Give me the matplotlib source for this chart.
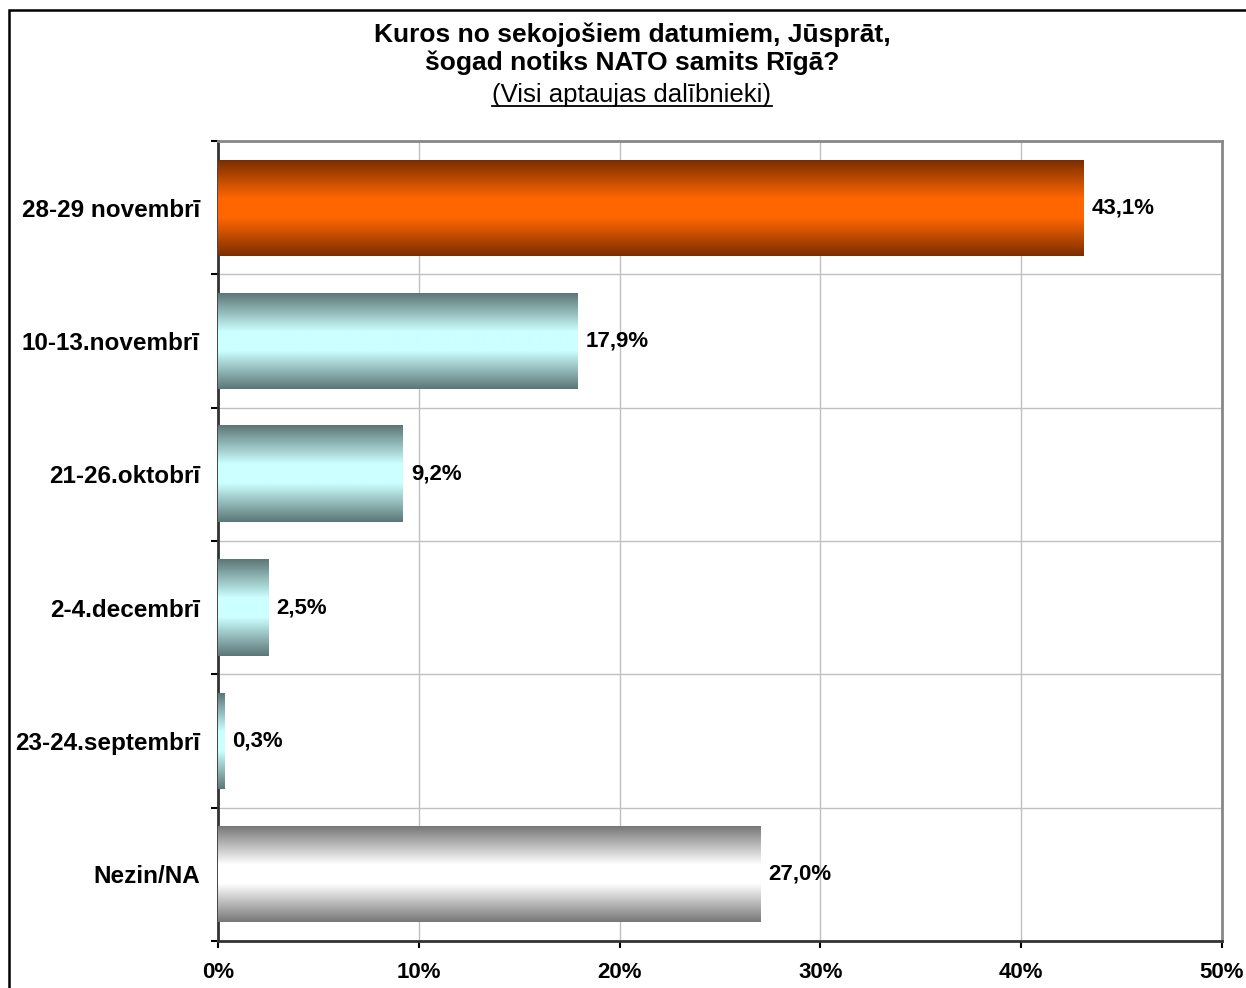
import numpy as np
import matplotlib.pyplot as plt
from matplotlib.colors import LinearSegmentedColormap
from matplotlib.lines import Line2D
from matplotlib.patches import Rectangle

plt.rcParams['font.family'] = ['Liberation Sans', 'DejaVu Sans']

# dati
categories = ['28-29 novembrī', '10-13.novembrī', '21-26.oktobrī',
              '2-4.decembrī', '23-24.septembrī', 'Nezin/NA']
values = [43.1, 17.9, 9.2, 2.5, 0.3, 27.0]
value_labels = ['43,1%', '17,9%', '9,2%', '2,5%', '0,3%', '27,0%']
xticks = [0, 10, 20, 30, 40, 50]
xtick_labels = ['0%', '10%', '20%', '30%', '40%', '50%']
bar_styles = ['orange', 'cyan', 'cyan', 'cyan', 'cyan', 'gray']

# krasas: (mala, vidus)
gradients = {
    'orange': ('#7a2e00', '#ff6600'),
    'cyan': ('#5c7676', '#ccffff'),
    'gray': ('#777777', '#ffffff'),
}

W, H = 1246, 988
fig = plt.figure(figsize=(W / 100, H / 100), dpi=100)
ax = fig.add_axes([218 / W, 1 - 941 / H, 1004 / W, 800 / H])

y = np.arange(len(categories))
bars = ax.barh(y, values, height=0.72, color='none', zorder=3)

# vertikals gradients katram stabinam
p = np.linspace(0, 1, 256)
t = np.clip((1 - np.abs(2 * p - 1)) / 0.8, 0, 1)
for bar, style in zip(bars, bar_styles):
    edge, mid = gradients[style]
    cmap = LinearSegmentedColormap.from_list(style, [edge, mid])
    x0, y0 = bar.get_x(), bar.get_y()
    w, h = bar.get_width(), bar.get_height()
    ax.imshow(t[:, None], cmap=cmap, vmin=0, vmax=1,
              extent=[x0, x0 + w, y0 + h, y0], aspect='auto',
              interpolation='bilinear', zorder=3)

for bar, lab in zip(bars, value_labels):
    ax.annotate(lab, (bar.get_width(), bar.get_y() + bar.get_height() / 2),
                xytext=(6, 0), textcoords='offset points', va='center',
                ha='left', fontsize=16, fontweight='bold', zorder=4)

ax.set_xlim(0, 50)
ax.set_ylim(len(categories) - 0.5, -0.5)

ax.set_xticks(xticks)
ax.set_xticklabels(xtick_labels, fontsize=16, fontweight='bold')
ax.set_yticks(y)
ax.set_yticklabels(categories, fontsize=17.5, fontweight='bold')
ax.set_yticks(np.arange(len(categories) + 1) - 0.5, minor=True)
ax.tick_params(axis='y', which='major', length=0, pad=13)
ax.tick_params(axis='y', which='minor', length=5, width=1.5, direction='out')
ax.tick_params(axis='x', which='major', length=5, width=1.5, pad=10)

ax.grid(axis='x', which='major', color='#c0c0c0', lw=1, zorder=0)
ax.grid(axis='y', which='minor', color='#c0c0c0', lw=1, zorder=0)
ax.set_axisbelow(True)

for s in ['left', 'bottom']:
    ax.spines[s].set_color('#333333')
    ax.spines[s].set_linewidth(2)
for s in ['top', 'right']:
    ax.spines[s].set_color('#888888')
    ax.spines[s].set_linewidth(2)

# virsraksts
cx = 632 / W
fig.text(cx, 1 - 42 / H, 'Kuros no sekojošiem datumiem, Jūsprāt,',
         ha='center', va='baseline', fontsize=19, fontweight='bold')
fig.text(cx, 1 - 70 / H, 'šogad notiks NATO samits Rīgā?',
         ha='center', va='baseline', fontsize=19, fontweight='bold')
sub = fig.text(cx, 1 - 102 / H, '(Visi aptaujas dalībnieki)',
               ha='center', va='baseline', fontsize=18.5)

# pasvitrojums
fig.canvas.draw()
bb = sub.get_window_extent(fig.canvas.get_renderer())
uy = 1 - 106 / H
fig.add_artist(Line2D([bb.x0 / W, bb.x1 / W], [uy, uy], color='black',
                      lw=1.3, transform=fig.transFigure))

# ārējais rāmis
fig.add_artist(Rectangle((9 / W, -0.1), 1.2, 1.1 - 10 / H, fill=False,
                         ec='black', lw=1.8, transform=fig.transFigure))

fig.savefig('out.png', dpi=100)
